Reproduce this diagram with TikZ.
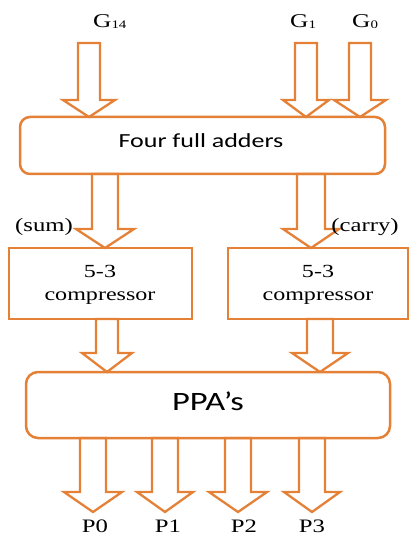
\documentclass[tikz,border=0pt]{standalone}
\usepackage{fontspec}
\setmainfont{Liberation Serif}[FakeStretch=1.3]
\newfontfamily\sansf{Carlito}[FakeStretch=1.3]
\usetikzlibrary{calc}
\definecolor{org}{RGB}{229,128,55}
\newcommand\barrow[5]{%
  \draw[blk] let \p1=(#1), \p2=(#2) in
    ({\x1-#3pt},{\y1}) -- ({\x1-#3pt},{\y2+#5pt}) -- ({\x1-#4pt},{\y2+#5pt}) --
    ({\x1},{\y2}) -- ({\x1+#4pt},{\y2+#5pt}) -- ({\x1+#3pt},{\y2+#5pt}) --
    ({\x1+#3pt},{\y1}) -- cycle;}
\newcommand\subnum[1]{\raisebox{-1pt}{\fontsize{11.5}{12}\selectfont #1}}
\begin{document}
\begin{tikzpicture}[x=1pt,y=-1pt,
  box/.style={draw=org, line width=2.5pt, inner sep=0pt, outer sep=0pt},
  blk/.style={draw=org, line width=2.3pt, line join=miter},
  lbl/.style={anchor=base, inner sep=0pt, font=\fontsize{19}{20}\selectfont},
  glbl/.style={anchor=base west, inner sep=0pt, font=\fontsize{19.5}{20}\selectfont},
  cmp/.style={anchor=base, inner sep=0pt, font=\fontsize{18.5}{20}\selectfont},
  stxt/.style={anchor=base, inner sep=0pt}]
\useasboundingbox (0,0) rectangle (409,537);

% boxes
\node[box, rounded corners=10pt, minimum width=365pt, minimum height=57pt] (fa) at (202.5,145.5) {};
\node[box, minimum width=183pt, minimum height=71pt] (c1) at (100.5,283.5) {};
\node[box, minimum width=180pt, minimum height=71pt] (c2) at (318,283.5) {};
\node[box, rounded corners=12pt, minimum width=364pt, minimum height=66pt] (ppa) at (208,405) {};

% box texts
\node[stxt, font=\sansf\fontsize{20}{20}\selectfont] (tfa) at (201,148) {Four full adders};
\node[stxt, font=\sansf\fontsize{26.5}{27}\selectfont] (tppa) at (208,410) {PPA’s};
\node[cmp] (c1a) at (100,277) {5-3};
\node[cmp] (c1b) at (100,300) {compressor};
\node[cmp] (c2a) at (318,277) {5-3};
\node[cmp] (c2b) at (318,300) {compressor};

% input labels
\node[glbl] (g14) at (93,28) {G\subnum{14}};
\node[glbl] (g1) at (290,28) {G\subnum{1}};
\node[glbl] (g0) at (352,28) {G\subnum{0}};

% input arrows
\coordinate (g14s) at (89,43);
\coordinate (g1s) at (306,43);
\coordinate (g0s) at (360,43);
\barrow{g14s}{g14s |- fa.north}{11}{26}{17}
\barrow{g1s}{g1s |- fa.north}{11}{23}{17}
\barrow{g0s}{g0s |- fa.north}{11}{26}{17}

% sum / carry arrows
\coordinate (sx) at (105,0);
\coordinate (cx) at (311,0);
\barrow{sx |- fa.south}{sx |- c1.north}{13}{29}{19}
\barrow{cx |- fa.south}{cx |- c2.north}{14}{28}{19}
\node[lbl] (sum) at (44,231) {(sum)};
\node[lbl] (carry) at (365,231) {(carry)};

% compressor to PPA arrows
\coordinate (lx) at (107,0);
\coordinate (rx) at (320,0);
\barrow{lx |- c1.south}{lx |- ppa.north}{11}{25}{19}
\barrow{rx |- c2.south}{rx |- ppa.north}{13}{28}{19}

% outputs
\coordinate (p0) at (93,512);
\coordinate (p1) at (165,512);
\coordinate (p2) at (238,512);
\coordinate (p3) at (312,512);
\barrow{p0 |- ppa.south}{p0}{13}{29}{20}
\barrow{p1 |- ppa.south}{p1}{13}{28}{20}
\barrow{p2 |- ppa.south}{p2}{13}{29}{20}
\barrow{p3 |- ppa.south}{p3}{13}{28}{20}
\node[lbl] (lp0) at (95,532) {P0};
\node[lbl] (lp1) at (168,532) {P1};
\node[lbl] (lp2) at (244,532) {P2};
\node[lbl] (lp3) at (312,532) {P3};
\end{tikzpicture}
\end{document}
